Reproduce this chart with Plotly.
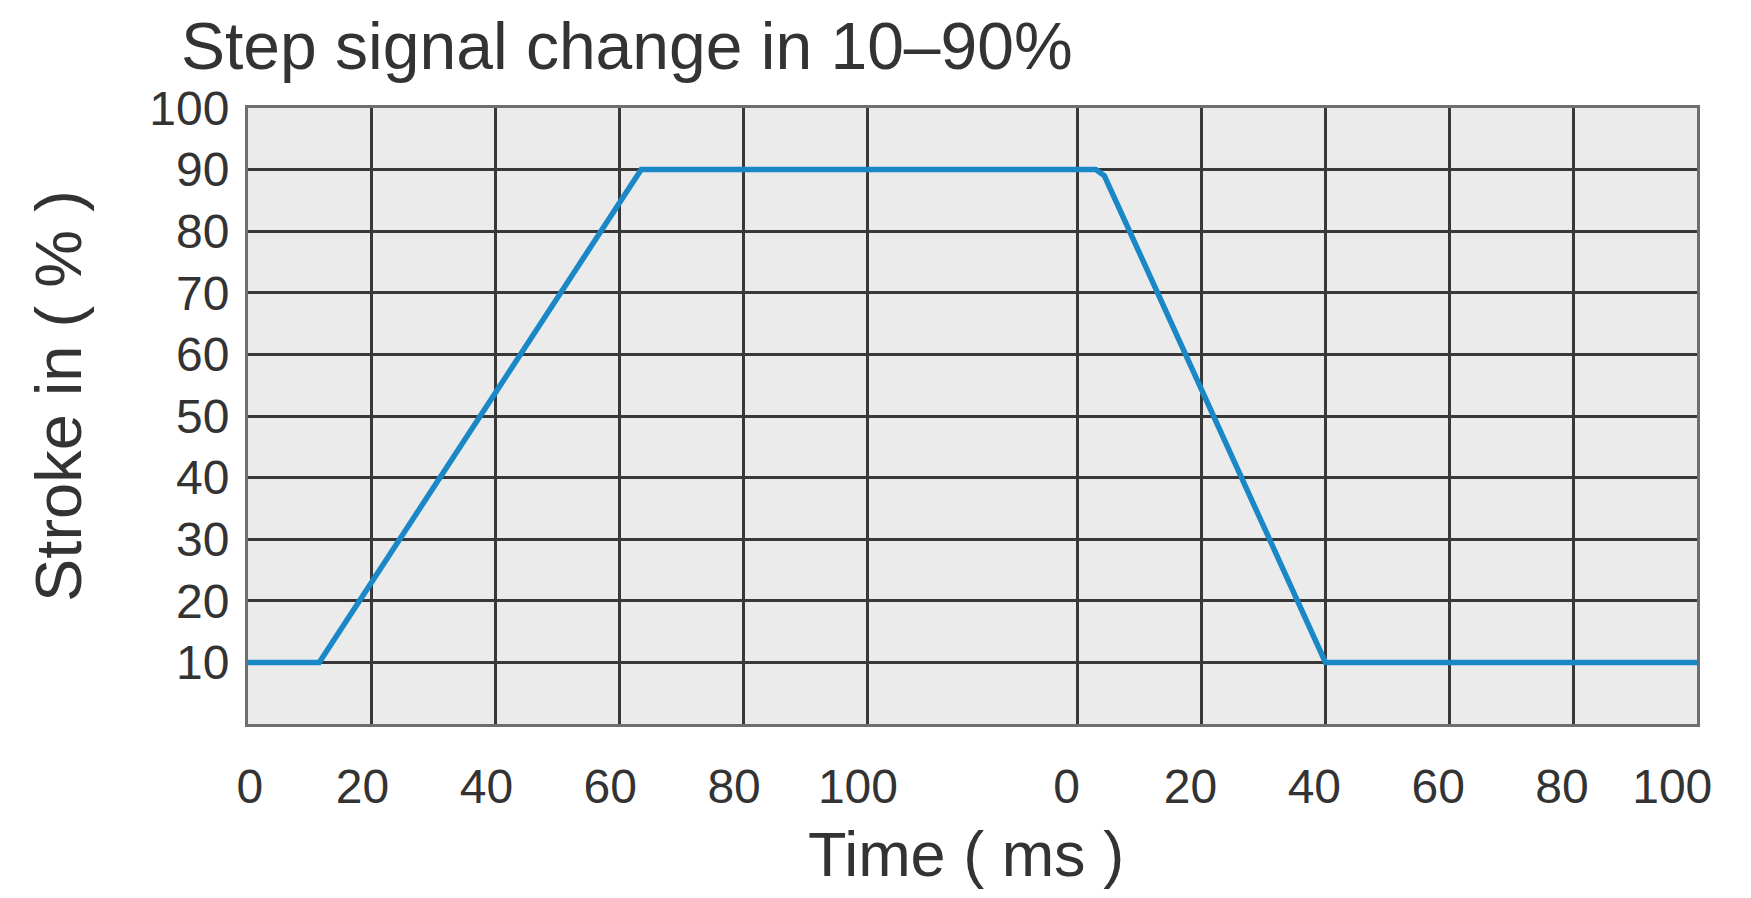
import plotly.graph_objects as go

# ---- data ----
rise_time_ms = [0, 11.5, 63.5, 100]
rise_stroke = [10, 10, 90, 90]
fall_time_ms = [0, 2.9, 4.3, 40, 100]
fall_stroke = [90, 90, 89, 10, 10]
tick_labels = ["0", "20", "40", "60", "80", "100"]
tick_times = [0, 20, 40, 60, 80, 100]
y_ticks = [10, 20, 30, 40, 50, 60, 70, 80, 90, 100]

GAP = 34  # visual gap between the two time panels (axis units)
offset = 100 + GAP

x = rise_time_ms + [t + offset for t in fall_time_ms]
y = rise_stroke + fall_stroke

grid_x = tick_times + [t + offset for t in tick_times]
label_x = [t - 1.5 for t in tick_times] + [t + offset - 1.8 for t in tick_times]
label_x[0] = 0.3
label_x[-1] = 100 + offset - 4
label_text = tick_labels + tick_labels

# page body has an 8px default margin; size the figure to fit inside it
PAD = 8
W, H = 1751 - 2 * PAD, 898 - 2 * PAD

fig = go.Figure()
fig.add_trace(go.Scatter(x=x, y=y, mode="lines",
                         line=dict(color="#1a88c6", width=5.5),
                         showlegend=False, hoverinfo="skip"))

FONT = "Liberation Sans, Arial, sans-serif"
TXT = "#333333"
fig.update_layout(
    width=W, height=H,
    paper_bgcolor="white", plot_bgcolor="#ebebeb",
    margin=dict(l=248 - PAD, r=1751 - 1697 - PAD, t=108 - PAD, b=898 - 724 - PAD),
    font=dict(family=FONT, color=TXT),
    title=dict(text="Step signal change in 10\u201390%",
               font=dict(size=66, color=TXT, family=FONT),
               x=(181 - PAD) / W, xanchor="left", xref="container",
               y=1 - (46 - PAD) / H, yanchor="middle", yref="container"),
)
fig.update_xaxes(
    range=[0, 100 + offset], automargin=False,
    tickmode="array", tickvals=label_x, ticktext=label_text,
    showgrid=False, zeroline=False,
    ticks="", ticklabelstandoff=18,
    tickfont=dict(size=48, color=TXT),
    minor=dict(tickmode="array", tickvals=grid_x, showgrid=True,
               gridcolor="#383838", gridwidth=2.5, ticks=""),
    showline=True, mirror=True, linecolor="#6e6e6e", linewidth=3,
)
fig.update_yaxes(
    range=[0, 100], automargin=False,
    tickmode="array", tickvals=y_ticks,
    showgrid=True, gridcolor="#383838", gridwidth=2.5, zeroline=False,
    ticks="", ticklabelstandoff=6,
    tickfont=dict(size=48, color=TXT),
    showline=True, mirror=True, linecolor="#6e6e6e", linewidth=3,
)

fig.add_annotation(text="Time ( ms )", xref="paper", yref="paper",
                   x=(966 - 248) / 1449, y=(724 - 854) / 616,
                   xanchor="center", yanchor="middle", showarrow=False,
                   font=dict(size=63, color=TXT))
fig.add_annotation(text="Stroke in ( % )", xref="paper", yref="paper",
                   x=(58 - 248) / 1449, y=(724 - 396) / 616, textangle=-90,
                   xanchor="center", yanchor="middle", showarrow=False,
                   font=dict(size=65, color=TXT))

fig.write_html("out.html")
